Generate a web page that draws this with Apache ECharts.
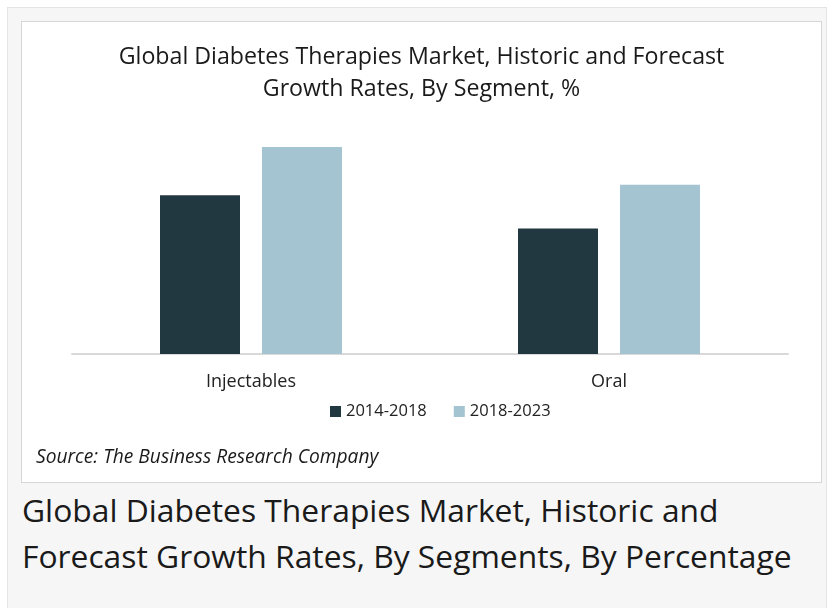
<!DOCTYPE html>
<html>
<head>
<meta charset="utf-8">
<script src="https://cdn.jsdelivr.net/npm/echarts@6/dist/echarts.min.js"></script>
<style>
  html, body { margin: 0; padding: 0; background: #ffffff; }
  body { width: 836px; height: 608px; position: relative; overflow: hidden; font-family: "Open Sans", sans-serif; }
  .frame { position: absolute; left: 7px; top: 7px; width: 820px; height: 620px; background: #f6f6f6; border: 1px solid #e4e4e4; box-sizing: border-box; }
  .box { position: absolute; left: 21px; top: 21px; width: 801px; height: 462px; background: #ffffff; border: 1px solid #d6d6d6; box-sizing: border-box; }
  #chart { position: absolute; left: 22px; top: 22px; width: 799px; height: 460px; }
  .caption { position: absolute; left: 22px; top: 487px; font-size: 31.8px; line-height: 45.5px; color: #1a1a1a; white-space: nowrap; }
</style>
</head>
<body>
<div class="frame"></div>
<div class="box"></div>
<div id="chart"></div>
<div class="caption">Global Diabetes Therapies Market, Historic and<br>Forecast Growth Rates, By Segments, By Percentage</div>
<script>
var categories = ['Injectables', 'Oral'];
var seriesNames = ['2014-2018', '2018-2023'];
var historic = [7.6, 6.0];
var forecast = [9.9, 8.1];
var colors = ['#223840', '#a3c4d0'];

var chart = echarts.init(document.getElementById('chart'));
chart.setOption({
    animation: false,
    color: colors,
    title: [{
        text: 'Global Diabetes Therapies Market, Historic and Forecast\nGrowth Rates, By Segment, %',
        left: 'center',
        top: 14,
        textStyle: { fontFamily: 'Open Sans', fontSize: 23.2, fontWeight: 'normal', color: '#1a1a1a', lineHeight: 32, align: 'center' }
    }, {
        text: 'Source: The Business Research Company',
        left: 9,
        top: 421,
        textStyle: { fontFamily: 'Open Sans', fontSize: 19.2, fontStyle: 'italic', fontWeight: 'normal', color: '#1a1a1a' }
    }],
    legend: {
        data: seriesNames,
        top: 376,
        left: 303,
        itemWidth: 11,
        itemHeight: 11,
        itemGap: 27,
        icon: 'rect',
        textStyle: { fontFamily: 'Open Sans', fontSize: 16.5, color: '#222' }
    },
    grid: { left: 50, right: 33, top: 123, bottom: 128 },
    xAxis: {
        type: 'category',
        data: categories,
        axisLine: { lineStyle: { color: '#d9d9d9', width: 2 } },
        axisTick: { show: false },
        axisLabel: { fontFamily: 'Open Sans', fontSize: 18, color: '#222', margin: 19 }
    },
    yAxis: {
        type: 'value',
        min: 0,
        max: 10,
        show: false,
        splitLine: { show: false }
    },
    series: [{
        name: seriesNames[0],
        type: 'bar',
        data: historic,
        barWidth: 80,
        barGap: '27.5%'
    }, {
        name: seriesNames[1],
        type: 'bar',
        data: forecast,
        barWidth: 80,
        barGap: '27.5%'
    }]
});
</script>
</body>
</html>
